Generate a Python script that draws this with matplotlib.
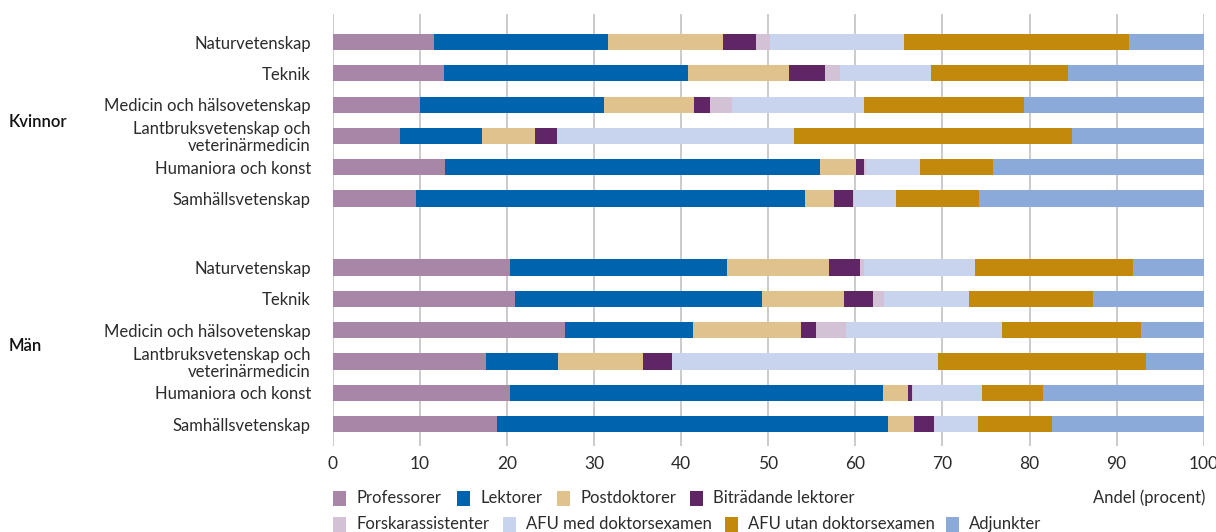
import numpy as np
import matplotlib
matplotlib.use("Agg")
import matplotlib.pyplot as plt
from matplotlib.patches import Rectangle

plt.rcParams['font.family'] = ['Lato', 'DejaVu Sans']

# fields, top to bottom within each group
fields = ['Naturvetenskap', 'Teknik', 'Medicin och hälsovetenskap',
          'Lantbruksvetenskap och\nveterinärmedicin', 'Humaniora och konst',
          'Samhällsvetenskap']
groups = ['Kvinnor', 'Män']

categories = ['Professorer', 'Lektorer', 'Postdoktorer', 'Biträdande lektorer',
              'Forskarassistenter', 'AFU med doktorsexamen',
              'AFU utan doktorsexamen', 'Adjunkter']

# share in percent, one list per category, rows = Kvinnor (6 fields) then Män (6 fields)
professorer  = [11.6, 12.8, 10.0, 7.7, 12.9, 9.5,   20.3, 20.9, 26.6, 17.6, 20.3, 18.8]
lektorer     = [20.0, 28.0, 21.1, 9.4, 43.0, 44.7,  25.0, 28.4, 14.7, 8.2, 42.9, 44.9]
postdoktorer = [13.2, 11.6, 10.4, 6.1, 4.2, 3.3,    11.7, 9.4, 12.5, 9.8, 2.8, 3.0]
bitradande   = [3.8, 4.1, 1.8, 2.5, 0.9, 2.2,       3.5, 3.3, 1.7, 3.3, 0.5, 2.3]
forskarass   = [1.6, 1.7, 2.5, 0.0, 0.2, 0.1,       0.5, 1.3, 3.4, 0.0, 0.1, 0.0]
afu_med      = [15.4, 10.5, 15.2, 27.2, 6.2, 4.9,   12.7, 9.7, 17.9, 30.6, 7.9, 5.1]
afu_utan     = [25.8, 15.7, 18.4, 32.0, 8.4, 9.5,   18.2, 14.3, 16.0, 23.9, 7.0, 8.5]
adjunkter    = [8.6, 15.6, 20.6, 15.1, 24.2, 25.8,  8.1, 12.7, 7.2, 6.6, 18.5, 17.4]

series = [professorer, lektorer, postdoktorer, bitradande,
          forskarass, afu_med, afu_utan, adjunkter]
colors = ['#A886A8', '#0063AE', '#E0C38C', '#602565',
          '#D3C1D6', '#C8D4EE', '#C3890D', '#8BA9D9']

# row positions: second group shifted down to leave a gap
ypos = np.concatenate([np.arange(6), np.arange(6) + 7.2])

W, H = 1216, 532
fig = plt.figure(figsize=(W / 100, H / 100), dpi=100)
ax = fig.add_axes([333 / W, 1 - 446 / H, (1203.7 - 333) / W, (446 - 14) / H])

left = np.zeros(len(ypos))
for vals, col in zip(series, colors):
    vals = np.array(vals)
    ax.barh(ypos, vals, left=left, height=0.52, color=col, linewidth=0, zorder=3)
    left += vals

txt = '#2b2b2b'
ax.set_xlim(0, 100)
ax.set_ylim(12.9, -0.895)
ax.set_xticks(np.arange(0, 101, 10))
ax.xaxis.grid(True, color='#BDBDBD', linewidth=1.1, zorder=0)
ax.tick_params(axis='x', length=0, pad=7, labelsize=12.5, colors=txt)
ax.set_yticks(ypos)
ax.set_yticklabels(fields * 2, fontsize=12, color=txt, linespacing=1.05)
ax.tick_params(axis='y', length=0, pad=16)
for s in ax.spines.values():
    s.set_visible(False)

# group labels
fig.text(9 / W, 1 - 122 / H, groups[0], fontsize=12, fontweight='semibold',
         color='#111111', va='center')
fig.text(9 / W, 1 - 346 / H, groups[1], fontsize=12, fontweight='semibold',
         color='#111111', va='center')

# legend, two rows laid out by hand
legend_x = [333, 457, 557, 690, 333, 503, 725, 946]
legend_y = [498, 498, 498, 498, 524, 524, 524, 524]
for name, col, lx, ly in zip(categories, colors, legend_x, legend_y):
    fig.patches.append(Rectangle((lx / W, 1 - (ly + 7.5) / H), 13 / W, 15 / H,
                                 transform=fig.transFigure, facecolor=col,
                                 edgecolor='none'))
    fig.text((lx + 23) / W, 1 - ly / H, name, fontsize=12, color=txt, va='center')

fig.text(1205 / W, 1 - 498 / H, 'Andel (procent)', fontsize=12, color=txt,
         va='center', ha='right')

fig.savefig('out.png', dpi=100)
